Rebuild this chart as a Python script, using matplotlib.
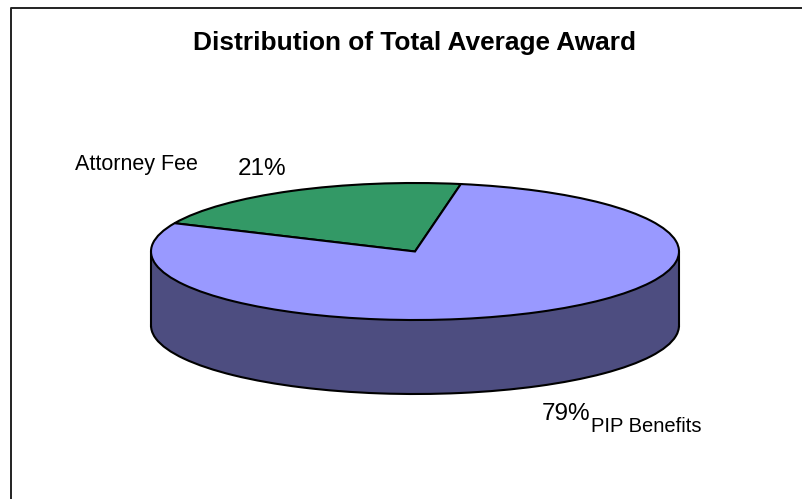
import matplotlib
matplotlib.use("Agg")
import matplotlib.pyplot as plt
from matplotlib.patches import Rectangle

plt.rcParams['font.family'] = ['Liberation Sans', 'DejaVu Sans']

W, H = 802, 499
labels = ["Attorney Fee", "PIP Benefits"]
values = [21, 79]
pct_labels = ["21%", "79%"]
title = "Distribution of Total Average Award"
top_colors = ["#339966", "#9999FF"]
side_color = "#4D4D80"

cx, cy, rx, ry, depth = 415, 251.5, 264, 68.5, 74

fig = plt.figure(figsize=(W / 100, H / 100), dpi=100, facecolor="white")
ax = fig.add_axes([0, 0, 1, 1])
lw = 1.5
d = depth / ry
# bottom of the cylinder
ax.pie(values, startangle=80, radius=1, center=(0, -d), colors=[side_color] * 2,
       wedgeprops=dict(edgecolor="black", linewidth=lw), frame=True)
ax.add_patch(Rectangle((-1, -d), 2, d, facecolor=side_color, edgecolor="none", zorder=1.5))
ax.add_patch(Rectangle((-0.5, -d - 0.1), 1, 0.2, facecolor=side_color, edgecolor="none", zorder=1.5))
ax.plot([-1, -1], [0, -d], color="black", lw=lw, zorder=1.6)
ax.plot([1, 1], [0, -d], color="black", lw=lw, zorder=1.6)
# top of the cylinder
wedges, _ = ax.pie(values, startangle=80, radius=1, colors=top_colors,
                   wedgeprops=dict(edgecolor="black", linewidth=lw), frame=True)
for w in wedges:
    w.set_zorder(2)
ax.set_aspect("auto")
ax.set_xlim(-cx / rx, (W - cx) / rx)
ax.set_ylim(-(H - cy) / ry, cy / ry)
ax.set_xticks([])
ax.set_yticks([])
for s in ax.spines.values():
    s.set_visible(False)

def px(x, y):
    return x / W, 1 - y / H

fig.add_artist(plt.Line2D([10.5 / W, 10.5 / W, 1],
                          [0, 1 - 7.5 / H, 1 - 7.5 / H], color="#222222", lw=1.4))
fig.text(*px(414.5, 50), title, ha="center", va="baseline", fontsize=18.9, fontweight="bold")
fig.text(*px(75, 169.5), labels[0], ha="left", va="baseline", fontsize=15.5)
fig.text(*px(238, 175), pct_labels[0], ha="left", va="baseline", fontsize=17.5)
fig.text(*px(542, 420.5), pct_labels[1], ha="left", va="baseline", fontsize=17.5)
fig.text(*px(591, 431.5), labels[1], ha="left", va="baseline", fontsize=14.5)
fig.savefig("out.png", dpi=100, facecolor="white")
